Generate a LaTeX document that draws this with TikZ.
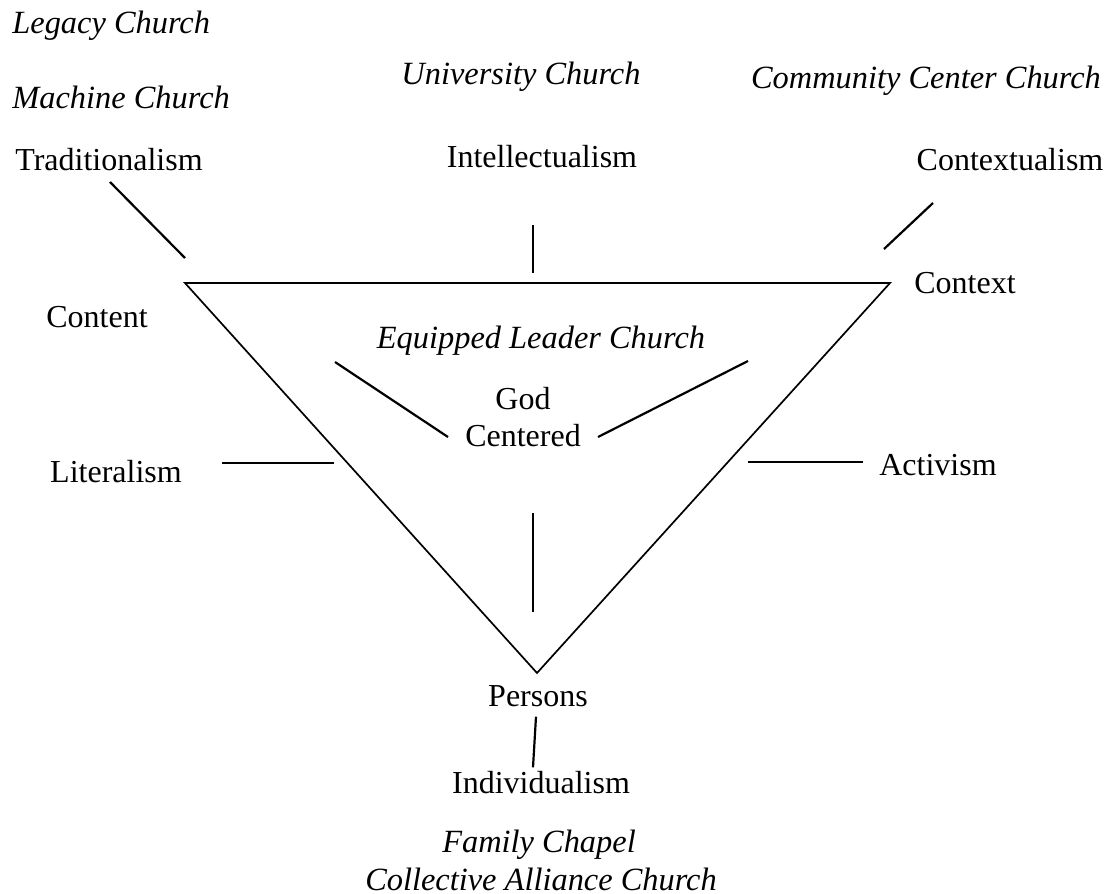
\documentclass[tikz,border=0pt]{standalone}
\usepackage{fontspec}
\setmainfont{Liberation Serif}
\usepackage{tikz}
\usetikzlibrary{positioning}

\begin{document}
\begin{tikzpicture}[x=0.5pt, y=-0.5pt, every node/.style={inner sep=0pt, font=\fontsize{16}{19}\selectfont}, church/.style={font=\fontsize{16.2}{19}\selectfont\itshape}, stub/.style={line width=1.1pt}]
\useasboundingbox (0,0) rectangle (1116,894);
% corners of the triangle
\coordinate (tl) at (185,283);
\coordinate (tr) at (890,283);
\coordinate (bt) at (537,673);
\draw[line width=0.85pt, line join=miter] (tl) -- (tr) -- (bt) -- cycle;
% labels round the outside
\node[church, anchor=base west] (legacy) at (12,33) {Legacy Church};
\node[church, anchor=base west] (machine) at (12,108) {Machine Church};
\node[anchor=base west] (trad) at (15,170) {Traditionalism};
\node[church, anchor=base] (univ) at (521,84) {University Church};
\node[anchor=base] (intel) at (542,167) {Intellectualism};
\node[church, anchor=base] (comm) at (926,88) {Community Center Church};
\node[anchor=base] (ctxism) at (1010,170) {Contextualism};
\node[anchor=base] (content) at (97,327) {Content};
\node[anchor=base] (context) at (965,293) {Context};
\node[anchor=base] (literal) at (116,482) {Literalism};
\node[anchor=base] (activ) at (938,475) {Activism};
\node[anchor=base] (persons) at (538,706) {Persons};
\node[anchor=base] (indiv) at (541,793) {Individualism};
\node[church, anchor=base] (family) at (539,852) {Family Chapel};
\node[church, anchor=base] (collect) at (541,890) {Collective Alliance Church};
% labels inside
\node[church, anchor=base] (equip) at (541,348) {Equipped Leader Church};
\node[anchor=base] (god) at (523,409) {God};
\node[anchor=base] (centered) at (523,446) {Centered};
% short strokes
\coordinate (t1) at (110,182); \coordinate (t2) at (185,258);
\coordinate (i1) at (533,225); \coordinate (i2) at (533,273);
\coordinate (c1) at (933,203); \coordinate (c2) at (884,249);
\coordinate (l1) at (222,463); \coordinate (l2) at (334,463);
\coordinate (a1) at (748,462); \coordinate (a2) at (863,462);
\coordinate (e1) at (335,362); \coordinate (e2) at (448,437);
\coordinate (r1) at (748,361); \coordinate (r2) at (598,437);
\coordinate (v1) at (533,513); \coordinate (v2) at (533,612);
\draw[stub] (t1) -- (t2);
\draw[stub] (i1) -- (i2);
\draw[stub] (c1) -- (c2);
\draw[stub] (l1) -- (l2);
\draw[stub] (a1) -- (a2);
\draw[stub] (e1) -- (e2);
\draw[stub] (r1) -- (r2);
\draw[stub] (v1) -- (v2);
\draw[stub] ([xshift=-1pt, yshift=-5pt]persons.south) -- ([xshift=-4pt, yshift=1.5pt]indiv.north);
\end{tikzpicture}
\end{document}
